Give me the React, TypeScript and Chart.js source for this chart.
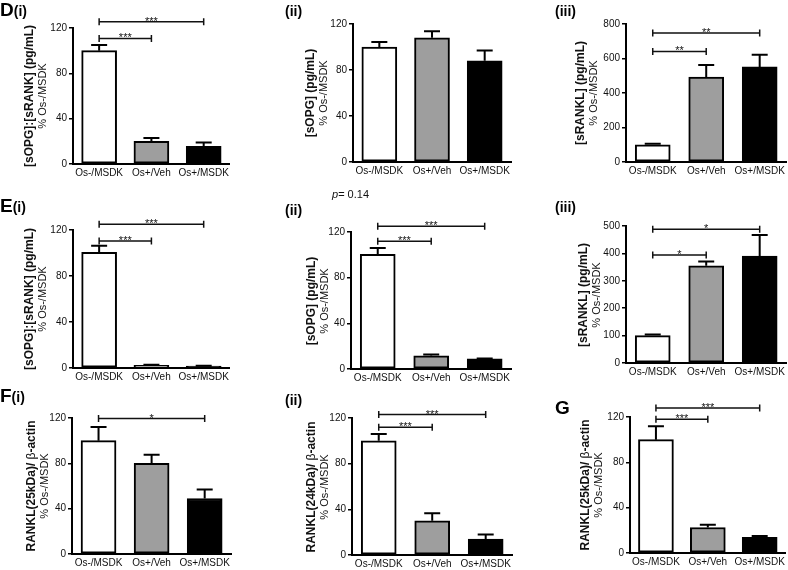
import React, { useEffect, useRef } from 'react';
import { Chart, registerables } from 'chart.js';

Chart.register(...registerables);

const FONT = "'Liberation Sans', Arial, Helvetica, sans-serif";
Chart.defaults.font.family = FONT;

// ---- shared ----
const categories = ['Os-/MSDK', 'Os+/Veh', 'Os+/MSDK'];
const barColors = ['#ffffff', '#9e9e9e', '#000000'];
const ticks120 = [0, 40, 80, 120];
const ticks800 = [0, 200, 400, 600, 800];
const ticks500 = [0, 100, 200, 300, 400, 500];

// ---- D(i) ----
const dI_mean = [100, 20, 15.5];
const dI_err = [5, 3, 3.5];
const dI_sig = [[0, 1, 110.8, '***'], [0, 2, 125.5, '***']];
// ---- D(ii) ----
const dII_mean = [100, 108, 88];
const dII_err = [4.3, 5.6, 9];
const dII_sig: any[] = [];
// ---- D(iii) ----
const dIII_mean = [100, 493, 551];
const dIII_err = [6, 69, 71];
const dIII_sig = [[0, 1, 641, '**'], [0, 2, 748, '**']];
// ---- E(i) ----
const eI_mean = [100.5, 2.3, 1.7];
const eI_err = [5.7, 0.5, 0.3];
const eI_sig = [[0, 1, 110.5, '***'], [0, 2, 125, '***']];
// ---- E(ii) ----
const eII_mean = [100.5, 11.6, 9];
const eII_err = [5.5, 1.2, 0.3];
const eII_sig = [[0, 1, 112, '***'], [0, 2, 125, '***']];
// ---- E(iii) ----
const eIII_mean = [100, 355, 390];
const eIII_err = [4, 15, 77];
const eIII_sig = [[0, 1, 394, '*'], [0, 2, 488, '*']];
// ---- F(i) ----
const fI_mean = [100, 80, 49];
const fI_err = [12, 7.5, 8];
const fI_sig = [[0, 2, 119.5, '*']];
// ---- F(ii) ----
const fII_mean = [100, 30, 14];
const fII_err = [6, 6.5, 4];
const fII_sig = [[0, 1, 112, '***'], [0, 2, 123, '***']];
// ---- G ----
const g_mean = [100, 22.5, 13.8];
const g_err = [11.8, 2.5, 1.2];
const g_sig = [[0, 1, 118, '***'], [0, 2, 128, '***']];

const titleRatio = '[sOPG]:[sRANK] (pg/mL)';
const titleOPG = '[sOPG] (pg/mL)';
const titleRANKL = '[sRANKL] (pg/mL)';
const title25 = 'RANKL(25kDa)/ β-actin';
const title24 = 'RANKL(24kDa)/ β-actin';
const titlePct = '% Os-/MSDK';

// layout (pixels in page)
const TOP_PAD = 22;
const Y_W = 40;
const X_H = 24;

const panels = [
  { mean: dI_mean, err: dI_err, ticks: ticks120, sig: dI_sig, t1: titleRatio, letter: 'D', sub: '(i)',
    L: { axisX: 73, end: 231, top: 28, zero: 164, titleX: 36, labelX: 0, labelY: 0 } },
  { mean: dII_mean, err: dII_err, ticks: ticks120, sig: dII_sig, t1: titleOPG, letter: '', sub: '(ii)',
    L: { axisX: 353, end: 512, top: 24, zero: 162, titleX: 317, labelX: 285, labelY: 0 } },
  { mean: dIII_mean, err: dIII_err, ticks: ticks800, sig: dIII_sig, t1: titleRANKL, letter: '', sub: '(iii)',
    L: { axisX: 626, end: 787, top: 24, zero: 162, titleX: 587, labelX: 555, labelY: 0 } },
  { mean: eI_mean, err: eI_err, ticks: ticks120, sig: eI_sig, t1: titleRatio, letter: 'E', sub: '(i)',
    L: { axisX: 73, end: 231, top: 230, zero: 368, titleX: 36, labelX: 0, labelY: 196 } },
  { mean: eII_mean, err: eII_err, ticks: ticks120, sig: eII_sig, t1: titleOPG, letter: '', sub: '(ii)',
    L: { axisX: 351, end: 512, top: 232, zero: 369, titleX: 318, labelX: 285, labelY: 199 } },
  { mean: eIII_mean, err: eIII_err, ticks: ticks500, sig: eIII_sig, t1: titleRANKL, letter: '', sub: '(iii)',
    L: { axisX: 626, end: 787, top: 226, zero: 363, titleX: 590, labelX: 555, labelY: 196 } },
  { mean: fI_mean, err: fI_err, ticks: ticks120, sig: fI_sig, t1: title25, letter: 'F', sub: '(i)',
    L: { axisX: 72, end: 232, top: 418, zero: 554, titleX: 38, labelX: 0, labelY: 386 } },
  { mean: fII_mean, err: fII_err, ticks: ticks120, sig: fII_sig, t1: title24, letter: '', sub: '(ii)',
    L: { axisX: 352, end: 513, top: 418, zero: 555, titleX: 318, labelX: 285, labelY: 389 } },
  { mean: g_mean, err: g_err, ticks: ticks120, sig: g_sig, t1: title25, letter: 'G', sub: '',
    L: { axisX: 630, end: 787, top: 417, zero: 553, titleX: 592, labelX: 555, labelY: 398 } },
];

function BarPanel({ p }: { p: any }) {
  const ref = useRef<HTMLCanvasElement>(null);
  const L = p.L;
  const width = L.end - L.axisX + Y_W + 1;
  const height = L.zero - L.top + TOP_PAD + X_H;

  useEffect(() => {
    const errPlugin = {
      id: 'errBars',
      afterDatasetsDraw(chart: any) {
        const ctx = chart.ctx;
        const ys = chart.scales.y;
        const meta = chart.getDatasetMeta(0);
        ctx.save();
        ctx.strokeStyle = '#000';
        ctx.lineWidth = 2;
        meta.data.forEach((bar: any, i: number) => {
          const x = bar.x;
          const y0 = ys.getPixelForValue(p.mean[i]);
          const y1 = ys.getPixelForValue(p.mean[i] + p.err[i]);
          ctx.beginPath();
          ctx.moveTo(x, y0);
          ctx.lineTo(x, y1);
          ctx.moveTo(x - 8, y1);
          ctx.lineTo(x + 8, y1);
          ctx.stroke();
        });
        ctx.restore();
      },
    };
    const sigPlugin = {
      id: 'sigBrackets',
      afterDraw(chart: any) {
        const ctx = chart.ctx;
        const xs = chart.scales.x;
        const ys = chart.scales.y;
        ctx.save();
        ctx.strokeStyle = '#111';
        ctx.fillStyle = '#111';
        ctx.lineWidth = 1.5;
        ctx.font = `11px ${FONT}`;
        ctx.textAlign = 'center';
        ctx.textBaseline = 'alphabetic';
        p.sig.forEach((s: any) => {
          const x1 = xs.getPixelForValue(s[0]);
          const x2 = xs.getPixelForValue(s[1]);
          const y = ys.getPixelForValue(s[2]);
          ctx.beginPath();
          ctx.moveTo(x1, y);
          ctx.lineTo(x2, y);
          ctx.moveTo(x1, y - 3.5);
          ctx.lineTo(x1, y + 3.5);
          ctx.moveTo(x2, y - 3.5);
          ctx.lineTo(x2, y + 3.5);
          ctx.stroke();
          ctx.fillText(s[3], (x1 + x2) / 2, y + 3);
        });
        ctx.restore();
      },
    };
    const maxV = p.ticks[p.ticks.length - 1];
    const chart = new Chart(ref.current as HTMLCanvasElement, {
      type: 'bar',
      data: {
        labels: categories,
        datasets: [
          {
            data: p.mean,
            backgroundColor: barColors,
            borderColor: '#000',
            borderWidth: 2,
            borderSkipped: false,
            barThickness: 35,
          } as any,
        ],
      },
      options: {
        responsive: false,
        animation: false,
        devicePixelRatio: 1,
        layout: { padding: { top: TOP_PAD, right: 1, left: 0, bottom: 0 } },
        plugins: { legend: { display: false }, tooltip: { enabled: false } },
        scales: {
          x: {
            type: 'category',
            offset: true,
            grid: { display: false, drawTicks: false },
            border: { display: true, color: '#000', width: 2 },
            ticks: { color: '#111', font: { size: 10 }, padding: 3, maxRotation: 0, autoSkip: false },
            afterFit: (s: any) => { s.height = X_H; },
          },
          y: {
            min: 0,
            max: maxV,
            grid: { drawOnChartArea: false, drawTicks: true, tickLength: 4, color: '#000', lineWidth: 1.5 },
            border: { display: true, color: '#000', width: 2 },
            ticks: { color: '#111', font: { size: 10 }, padding: 2 },
            afterBuildTicks: (s: any) => { s.ticks = p.ticks.map((v: number) => ({ value: v })); },
            afterFit: (s: any) => { s.width = Y_W; },
          },
        } as any,
      },
      plugins: [errPlugin, sigPlugin],
    } as any);
    return () => chart.destroy();
  }, []);

  const parts = p.t1.split('β');
  const midY = (L.top + L.zero) / 2;

  return (
    <>
      <canvas
        ref={ref}
        width={width}
        height={height}
        style={{ position: 'absolute', left: L.axisX - Y_W, top: L.top - TOP_PAD, width, height }}
      />
      <div
        style={{
          position: 'absolute',
          left: L.titleX,
          top: midY,
          transform: 'translate(-50%, -50%) rotate(-90deg)',
          whiteSpace: 'nowrap',
          textAlign: 'center',
          color: '#111',
          fontFamily: FONT,
          lineHeight: '13px',
        }}
      >
        <div style={{ fontWeight: 'bold', fontSize: 12 }}>
          {parts[0]}
          {parts.length > 1 ? <span style={{ fontWeight: 'normal' }}>β</span> : null}
          {parts.length > 1 ? parts[1] : null}
        </div>
        <div style={{ fontSize: 11 }}>{titlePct}</div>
      </div>
      <div
        style={{
          position: 'absolute',
          left: L.labelX,
          top: L.labelY,
          fontFamily: FONT,
          fontWeight: 'bold',
          fontSize: 19,
          lineHeight: '19px',
          whiteSpace: 'nowrap',
          color: '#000',
        }}
      >
        {p.letter}
        <span style={{ fontSize: 14 }}>{p.sub}</span>
      </div>
    </>
  );
}

export default function App() {
  return (
    <div
      style={{
        position: 'absolute',
        left: 0,
        top: 0,
        width: 788,
        height: 570,
        background: '#fff',
        overflow: 'hidden',
        fontFamily: FONT,
      }}
    >
      {panels.map((p, i) => (
        <BarPanel key={i} p={p} />
      ))}
      <div style={{ position: 'absolute', left: 332, top: 188, fontSize: 11, lineHeight: '12px', color: '#111' }}>
        <i>p</i>= 0.14
      </div>
    </div>
  );
}
